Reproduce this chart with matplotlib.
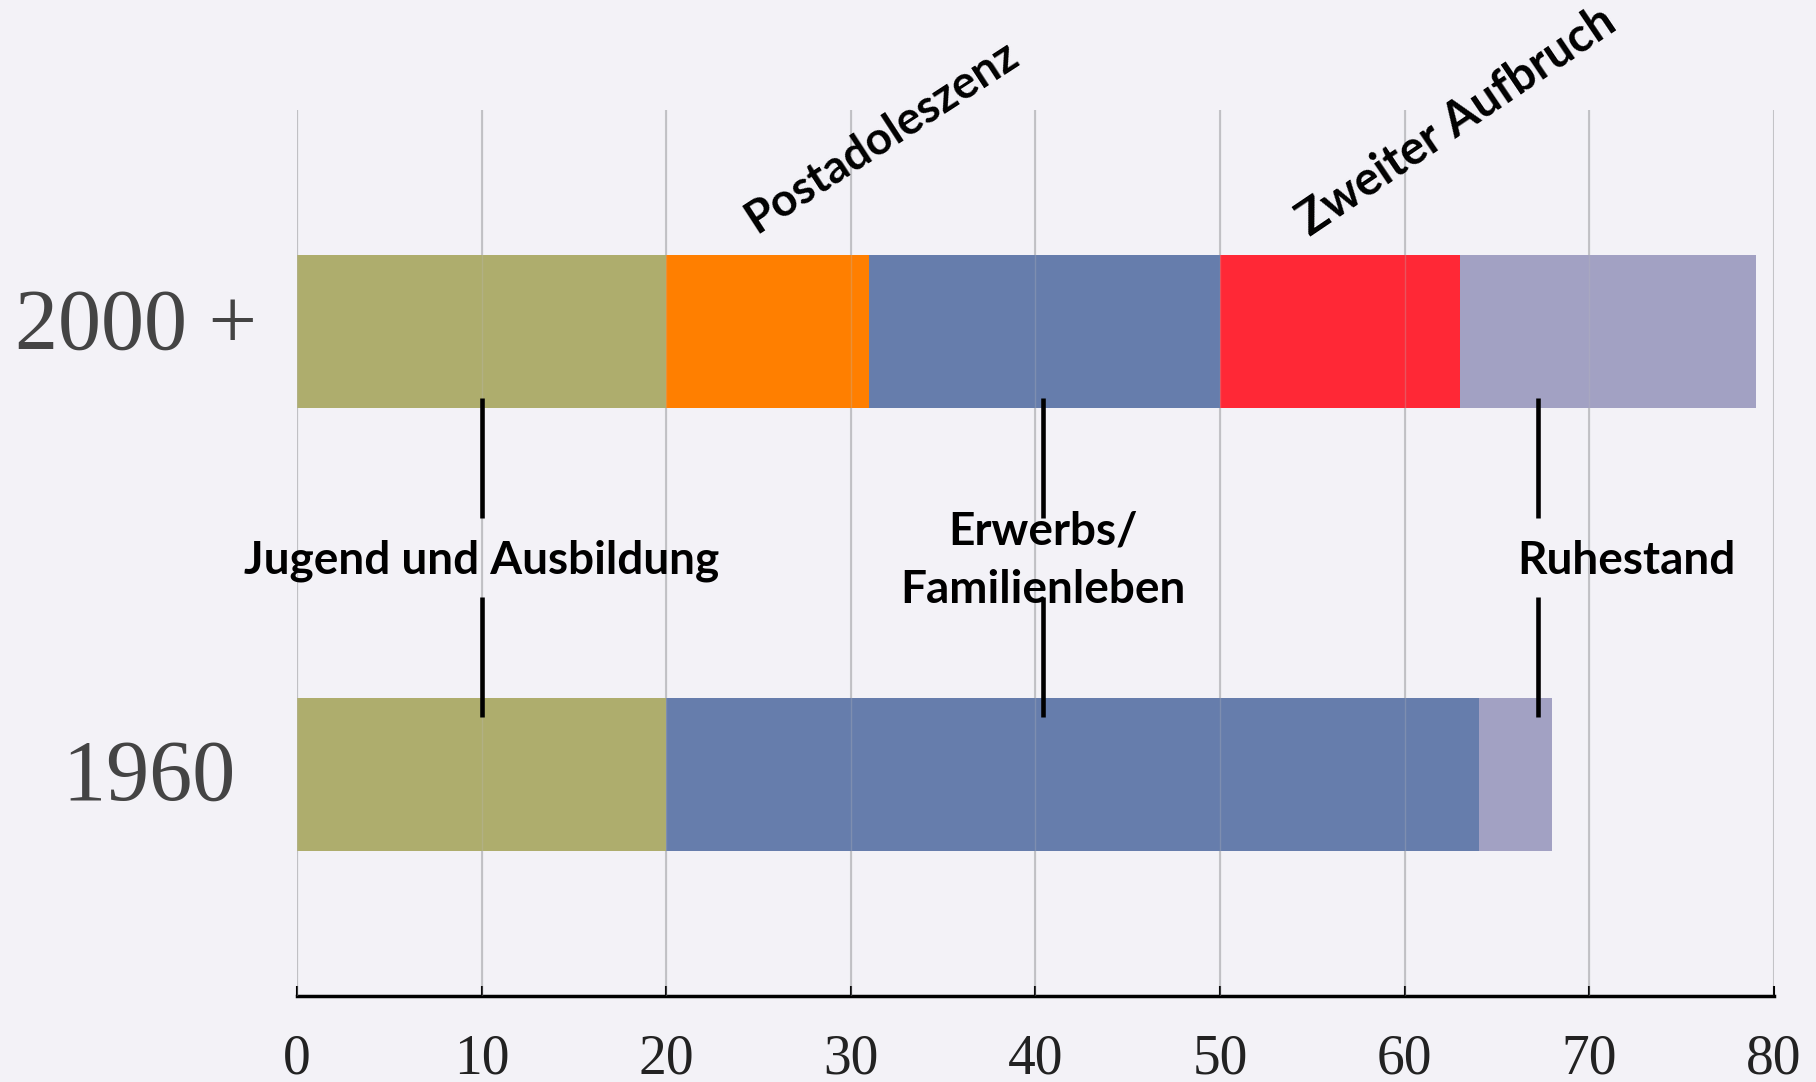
# encoding: utf-8

'''
Lebensphasen 1960 vs 2000+
'''

import matplotlib
matplotlib.use('Agg')
import matplotlib.pyplot as plt
import matplotlib.transforms as mtransforms
from matplotlib import font_manager

# data
rows = ['1960 ', '2000 +']
row_y = [0, 1]
phases_1960 = [('Jugend', 0, 20), ('Erwerb', 20, 64), ('Ruhe', 64, 68)]
phases_2000 = [('Jugend', 0, 20), ('Post', 20, 31), ('Erwerb', 31, 50),
               ('Zweiter', 50, 63), ('Ruhe', 63, 79)]
x_ticks = [0, 10, 20, 30, 40, 50, 60, 70, 80]
markers_x = [10, 40.4, 67.2]
labels_mid = ['Jugend und Ausbildung', 'Erwerbs/\nFamilienleben', 'Ruhestand']
labels_mid_x = [10, 40.4, 72]
labels_top = ['Postadoleszenz', 'Zweiter Aufbruch']
labels_top_x = [31.7, 62.8]

colors = {
    'Jugend': '#aead6d',
    'Post': '#ff7f00',
    'Erwerb': '#667dac',
    'Zweiter': '#ff2836',
    'Ruhe': '#a2a1c3',
}

names = [f.name for f in font_manager.fontManager.ttflist]
if 'Liberation Sans Narrow' in names:
    label_font = 'Liberation Sans Narrow'
else:
    label_font = 'Lato'
serif = 'Liberation Serif'

bg = '#f3f2f7'
fig = plt.figure(figsize=(18.16, 10.82), dpi=100, facecolor=bg)
ax = fig.add_axes([0.1635, 0.0795, 0.8134, 0.8188])
ax.set_facecolor(bg)

bar_h = 0.345
for y, phases in zip(row_y, [phases_1960, phases_2000]):
    for name, start, end in phases:
        ax.barh(y, end - start, left=start, height=bar_h, color=colors[name],
                edgecolor='none', zorder=2)

ax.set_xlim(0, 80)
ax.set_ylim(-0.5, 1.5)

for x in x_ticks:
    ax.axvline(x, color='#c4c4c8', lw=1.5, zorder=1)
    ax.axvline(x, color='#b8b8bc', lw=1.0, alpha=0.3, zorder=3)

# marker lines between the bars
for x in markers_x:
    ax.plot([x, x], [0.58, 0.85], color='black', lw=3.3, solid_capstyle='butt', zorder=4)
    ax.plot([x, x], [0.13, 0.40], color='black', lw=3.3, solid_capstyle='butt', zorder=4)

for txt, x in zip(labels_mid, labels_mid_x):
    ax.text(x, 0.482, txt, ha='center', va='center', fontsize=33, fontweight='bold',
            family=label_font, linespacing=1.5, zorder=5)

ax.text(labels_top_x[0], 1.44, labels_top[0], ha='center', va='center', rotation=33,
        fontsize=33, fontweight='bold', family=label_font, clip_on=False)
ax.text(labels_top_x[1], 1.474, labels_top[1], ha='center', va='center', rotation=34,
        fontsize=34, fontweight='bold', family=label_font, clip_on=False)

ax.set_xticks(x_ticks)
ax.set_xticklabels([str(t) for t in x_ticks], family=serif, fontsize=40, color='#222222')
ax.tick_params(axis='x', direction='in', length=7, width=1.5, pad=27)

# row labels, nudged a bit like in the original slide
ax.set_yticks([])
trans = mtransforms.blended_transform_factory(ax.transAxes, ax.transData)
trans = trans + mtransforms.ScaledTranslation(-29 / 72, 0, fig.dpi_scale_trans)
for txt, y, dy in zip(rows, row_y, [0.012, 0.029]):
    ax.text(0, y + dy, txt, transform=trans, ha='right', va='center_baseline',
            family=serif, fontsize=62, color='#444444')

for s in ['top', 'right', 'left']:
    ax.spines[s].set_visible(False)
ax.spines['bottom'].set_linewidth(2.5)
ax.spines['bottom'].set_color('black')

plt.savefig('out.png', dpi=100, facecolor=bg)
